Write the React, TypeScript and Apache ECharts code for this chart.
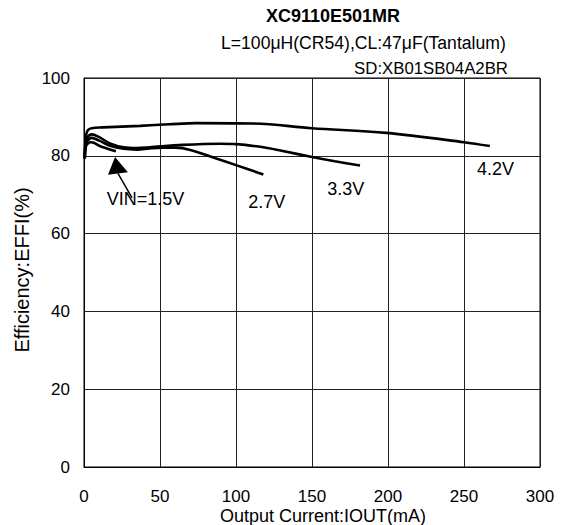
import React, { useEffect, useRef } from 'react';
import * as echarts from 'echarts';

// ---- data ----
const xTickMin = 0, xTickMax = 300, xTickStep = 50;
const yTickMin = 0, yTickMax = 100, yTickStep = 20;

const seriesNames = ['VIN=1.5V', '2.7V', '3.3V', '4.2V'];

const vin15: number[][] = [[0.5, 79.3], [1, 82], [2, 82.9], [4, 83.5], [6, 83.4], [10, 82.6], [15, 81.9], [21, 81.2]];
const vin27: number[][] = [[0.5, 79.3], [1, 82.6], [2, 83.7], [5, 84.6], [10, 83.9], [17, 82.6], [26, 81.8], [35, 81.6], [43, 81.9], [52, 82.1], [60, 82.1], [70, 81.5], [87, 79.3], [100, 77.6], [118, 75.2]];
const vin33: number[][] = [[0.5, 79.3], [1, 83.2], [2, 84.6], [5, 85.5], [10, 84.8], [17, 83.2], [26, 82.2], [35, 82.0], [43, 82.2], [65, 82.8], [89, 83.1], [100, 83.0], [118, 82.2], [130, 81.3], [150, 79.7], [165, 78.6], [181.6, 77.5]];
const vin42: number[][] = [[0.5, 79.5], [1.2, 85], [2.5, 86.6], [5, 87.1], [12.5, 87.3], [37, 87.7], [56, 88.1], [74, 88.4], [111, 88.3], [150, 87.1], [199, 85.9], [250, 83.5], [267, 82.5]];

// annotation anchors (data coordinates)
const curveLabelAt: number[][] = [[15, 68.9], [108, 68.1], [160, 71.5], [258.5, 76.6]];
const arrowTip = [20.4, 79.7];
const arrowTail = [31.6, 69.2];
const arrowHeadL = [15.8, 75.1];
const arrowHeadR = [28.9, 75.8];

const titleText = 'XC9110E501MR';
const subText1 = 'L=100μH(CR54),CL:47μF(Tantalum)';
const subText2 = 'SD:XB01SB04A2BR';
const xName = 'Output Current:IOUT(mA)';
const yName = 'Efficiency:EFFI(%)';

const FONT = '"Liberation Sans", Arial, sans-serif';

export default function App() {
  const ref = useRef<HTMLDivElement>(null);
  useEffect(() => {
    document.body.style.margin = '0';
    const chart = echarts.init(ref.current!, undefined, { renderer: 'svg' });
    const lineStyle = { color: '#000', width: 2.6 };
    const mkSeries = (name: string, data: number[][]) => ({
      name,
      type: 'line',
      data,
      smooth: 0.35,
      showSymbol: false,
      symbol: 'none',
      lineStyle,
      z: 5,
    });
    chart.setOption({
      animation: false,
      backgroundColor: '#fff',
      grid: { left: 84, right: 24, top: 78, bottom: 58, show: true, borderColor: '#000', borderWidth: 1 },
      xAxis: {
        type: 'value', min: xTickMin, max: xTickMax, interval: xTickStep,
        axisLine: { show: true, lineStyle: { color: '#000', width: 1 } },
        axisTick: { show: false },
        splitLine: { show: true, lineStyle: { color: '#222', width: 1 } },
        axisLabel: { color: '#000', fontSize: 17, fontFamily: FONT, margin: 21 },
      },
      yAxis: {
        type: 'value', min: yTickMin, max: yTickMax, interval: yTickStep,
        axisLine: { show: true, lineStyle: { color: '#000', width: 1 } },
        axisTick: { show: false },
        splitLine: { show: true, lineStyle: { color: '#222', width: 1 } },
        axisLabel: { color: '#000', fontSize: 17, fontFamily: FONT, margin: 14 },
      },
      series: [
        mkSeries(seriesNames[0], vin15),
        mkSeries(seriesNames[1], vin27),
        mkSeries(seriesNames[2], vin33),
        mkSeries(seriesNames[3], vin42),
      ],
    });

    const px = (p: number[]) => chart.convertToPixel({ gridIndex: 0 }, p) as number[];
    const labelEls = seriesNames.map((n, i) => {
      const [x, y] = px(curveLabelAt[i]);
      return {
        type: 'text', x, y, z: 10,
        style: { text: n, fill: '#000', font: `18px ${FONT}`, textAlign: 'left', textVerticalAlign: 'middle' },
      };
    });
    const tip = px(arrowTip), tail = px(arrowTail), hl = px(arrowHeadL), hr = px(arrowHeadR);
    const midBase = [(hl[0] + hr[0]) / 2, (hl[1] + hr[1]) / 2];

    chart.setOption({
      graphic: [
        { type: 'text', x: 333, y: 16, style: { text: titleText, fill: '#000', font: `bold 18px ${FONT}`, textAlign: 'center', textVerticalAlign: 'middle' } },
        { type: 'text', x: 221, y: 43, style: { text: subText1, fill: '#000', font: `17.6px ${FONT}`, textAlign: 'left', textVerticalAlign: 'middle' } },
        { type: 'text', x: 508, y: 68, style: { text: subText2, fill: '#000', font: `16.8px ${FONT}`, textAlign: 'right', textVerticalAlign: 'middle' } },
        { type: 'text', x: 323, y: 516, style: { text: xName, fill: '#000', font: `18px ${FONT}`, textAlign: 'center', textVerticalAlign: 'middle' } },
        { type: 'text', x: 22, y: 270, rotation: Math.PI / 2, style: { text: yName, fill: '#000', font: `20px ${FONT}`, textAlign: 'center', textVerticalAlign: 'middle' } },
        ...labelEls,
        { type: 'line', z: 10, shape: { x1: tail[0], y1: tail[1], x2: midBase[0], y2: midBase[1] }, style: { stroke: '#000', lineWidth: 1.5 } },
        { type: 'polygon', z: 10, shape: { points: [tip, hl, hr] }, style: { fill: '#000' } },
      ],
    });
    return () => chart.dispose();
  }, []);
  return <div ref={ref} style={{ width: 564, height: 525 }} />;
}
